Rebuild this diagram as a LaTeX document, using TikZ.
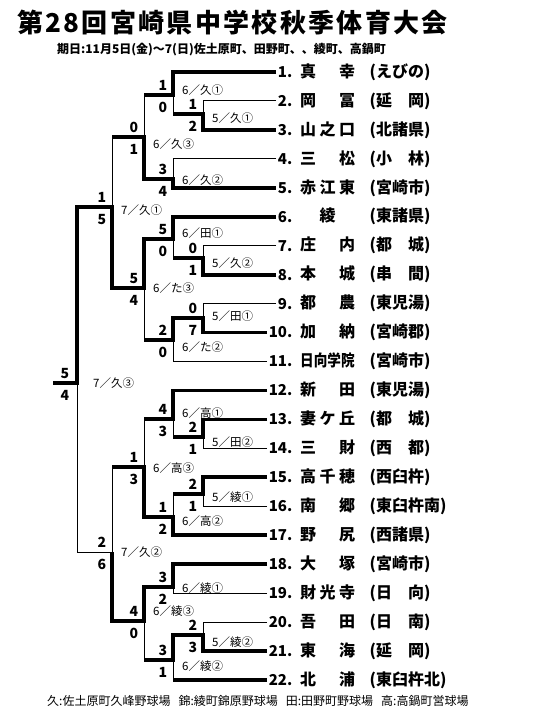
\documentclass[tikz,border=0pt]{standalone}
\usepackage{fontspec}
\setmainfont{Noto Sans CJK JP}
\usepackage{graphicx}
\usepackage{tikz}
\usetikzlibrary{calc}

\tikzset{
  lose line/.style={line width=1pt},
  win line/.style={line width=3.8pt},
  score/.style={font=\fontsize{14}{14}\selectfont\bfseries, inner sep=0pt},
  game/.style={font=\fontsize{11.5}{12}\selectfont, anchor=west, inner sep=0pt},
  num/.style={font=\fontsize{15}{16}\selectfont\bfseries, anchor=east, inner sep=1.5pt},
  school/.style={font=\fontsize{16}{16}\selectfont\bfseries, anchor=west, inner sep=0pt},
}
\newcommand{\nm}[4]{\makebox[19.5pt][l]{#1}\makebox[19.5pt][l]{#2}\makebox[19.5pt][l]{#3}\hspace{11pt}(#4)}
\newcommand{\game}[5]{%
  \node[score, anchor=south] (#1u) at ($(#1)+(-10,-4)$) {#2};
  \node[score, anchor=north] (#1d) at ($(#1)+(-10,7)$) {#3};
  \node[game] (#1g) at ($(#1 |- 0,#5)+(9,0)$) {#4};}

\begin{document}
\begin{tikzpicture}[x=1pt,y=-1pt]
    \useasboundingbox (0,0) rectangle (540,720);
    \node[anchor=west, inner sep=0pt, font=\fontsize{26}{26}\selectfont\bfseries\addfontfeature{LetterSpace=9}] (title) at (17,23) {第28回宮崎県中学校秋季体育大会};
    \node[anchor=west, inner sep=0pt, font=\fontsize{12}{12}\selectfont\bfseries] (date) at (57,50) {期日:11月5日(金)～7(日)佐土原町、田野町、、綾町、高鍋町};
    \node[anchor=west, inner sep=0pt, font=\fontsize{12}{12}\selectfont] (venue) at (47,701) {久:佐土原町久峰野球場\hspace{8pt}錦:綾町錦原野球場\hspace{8pt}田:田野町野球場\hspace{8pt}高:高鍋町営球場};

    \coordinate (s1) at (173,72.0);
    \coordinate (s2) at (203,100.95);
    \coordinate (s3) at (203,129.9);
    \coordinate (s4) at (173,158.85);
    \coordinate (s5) at (173,187.8);
    \coordinate (s6) at (173,216.75);
    \coordinate (s7) at (203,245.7);
    \coordinate (s8) at (203,274.65);
    \coordinate (s9) at (203,303.6);
    \coordinate (s10) at (203,332.55);
    \coordinate (s11) at (173,361.5);
    \coordinate (s12) at (173,390.45);
    \coordinate (s13) at (203,419.4);
    \coordinate (s14) at (203,448.35);
    \coordinate (s15) at (203,477.3);
    \coordinate (s16) at (203,506.25);
    \coordinate (s17) at (173,535.2);
    \coordinate (s18) at (173,564.15);
    \coordinate (s19) at (173,593.1);
    \coordinate (s20) at (203,622.05);
    \coordinate (s21) at (203,651.0);
    \coordinate (s22) at (173,679.95);

    \node[num] (n1) at (294,72.0) {1.};
    \node[num] (n2) at (294,100.95) {2.};
    \node[num] (n3) at (294,129.9) {3.};
    \node[num] (n4) at (294,158.85) {4.};
    \node[num] (n5) at (294,187.8) {5.};
    \node[num] (n6) at (294,216.75) {6.};
    \node[num] (n7) at (294,245.7) {7.};
    \node[num] (n8) at (294,274.65) {8.};
    \node[num] (n9) at (294,303.6) {9.};
    \node[num] (n10) at (294,332.55) {10.};
    \node[num] (n11) at (294,361.5) {11.};
    \node[num] (n12) at (294,390.45) {12.};
    \node[num] (n13) at (294,419.4) {13.};
    \node[num] (n14) at (294,448.35) {14.};
    \node[num] (n15) at (294,477.3) {15.};
    \node[num] (n16) at (294,506.25) {16.};
    \node[num] (n17) at (294,535.2) {17.};
    \node[num] (n18) at (294,564.15) {18.};
    \node[num] (n19) at (294,593.1) {19.};
    \node[num] (n20) at (294,622.05) {20.};
    \node[num] (n21) at (294,651.0) {21.};
    \node[num] (n22) at (294,679.95) {22.};

    \node[school] (t1) at (300,72.0) {\nm{真}{}{幸}{えびの}};
    \node[school] (t2) at (300,100.95) {\nm{岡}{}{冨}{延　岡}};
    \node[school] (t3) at (300,129.9) {\nm{山}{之}{口}{北諸県}};
    \node[school] (t4) at (300,158.85) {\nm{三}{}{松}{小　林}};
    \node[school] (t5) at (300,187.8) {\nm{赤}{江}{東}{宮崎市}};
    \node[school] (t6) at (300,216.75) {\nm{}{綾}{}{東諸県}};
    \node[school] (t7) at (300,245.7) {\nm{庄}{}{内}{都　城}};
    \node[school] (t8) at (300,274.65) {\nm{本}{}{城}{串　間}};
    \node[school] (t9) at (300,303.6) {\nm{都}{}{農}{東児湯}};
    \node[school] (t10) at (300,332.55) {\nm{加}{}{納}{宮崎郡}};
    \node[school] (t11) at (300,361.5) {\nm{\scalebox{0.85}[1]{日向学院}}{}{}{宮崎市}};
    \node[school] (t12) at (300,390.45) {\nm{新}{}{田}{東児湯}};
    \node[school] (t13) at (300,419.4) {\nm{妻}{ケ}{丘}{都　城}};
    \node[school] (t14) at (300,448.35) {\nm{三}{}{財}{西　都}};
    \node[school] (t15) at (300,477.3) {\nm{高}{千}{穂}{西臼杵}};
    \node[school] (t16) at (300,506.25) {\nm{南}{}{郷}{東臼杵南}};
    \node[school] (t17) at (300,535.2) {\nm{野}{}{尻}{西諸県}};
    \node[school] (t18) at (300,564.15) {\nm{大}{}{塚}{宮崎市}};
    \node[school] (t19) at (300,593.1) {\nm{財}{光}{寺}{日　向}};
    \node[school] (t20) at (300,622.05) {\nm{吾}{}{田}{日　南}};
    \node[school] (t21) at (300,651.0) {\nm{東}{}{海}{延　岡}};
    \node[school] (t22) at (300,679.95) {\nm{北}{}{浦}{東臼杵北}};

    \coordinate (A) at (203,114);
    \coordinate (B) at (173,95);
    \coordinate (C) at (173,179);
    \coordinate (D) at (144,137);
    \coordinate (E) at (203,258);
    \coordinate (F) at (173,239);
    \coordinate (G) at (203,318);
    \coordinate (H) at (173,340);
    \coordinate (I) at (144,288);
    \coordinate (J) at (112,207);
    \coordinate (K) at (203,437);
    \coordinate (L) at (173,419);
    \coordinate (M) at (203,494);
    \coordinate (N) at (173,517);
    \coordinate (O) at (144,467);
    \coordinate (P) at (173,587);
    \coordinate (Q) at (203,635);
    \coordinate (R) at (173,660);
    \coordinate (S) at (144,621);
    \coordinate (T) at (112,552);
    \coordinate (W) at (77,383);
    \coordinate (champ) at (53,383);

    \draw[lose line] (n2.west) -- (s2);
    \draw[lose line] (n4.west) -- (s4);
    \draw[lose line] (n7.west) -- (s7);
    \draw[lose line] (n9.west) -- (s9);
    \draw[lose line] (n11.west) -- (s11);
    \draw[lose line] (n14.west) -- (s14);
    \draw[lose line] (n16.west) -- (s16);
    \draw[lose line] (n19.west) -- (s19);
    \draw[lose line] (n20.west) -- (s20);

    \draw[lose line] (s2) -- (s3);
    \draw[lose line] (s1) -- (A -| B);
    \draw[lose line] (s4) -- (s5);
    \draw[lose line] (B -| D) -- (C -| D);
    \draw[lose line] (s7) -- (s8);
    \draw[lose line] (s6) -- (E -| F);
    \draw[lose line] (s9) -- (s10);
    \draw[lose line] (G -| H) -- (s11);
    \draw[lose line] (F -| I) -- (H -| I);
    \draw[lose line] (D -| J) -- (I -| J);
    \draw[lose line] (s13) -- (s14);
    \draw[lose line] (s12) -- (K -| L);
    \draw[lose line] (s15) -- (s16);
    \draw[lose line] (M -| N) -- (s17);
    \draw[lose line] (L -| O) -- (N -| O);
    \draw[lose line] (s18) -- (s19);
    \draw[lose line] (s20) -- (s21);
    \draw[lose line] (Q -| R) -- (s22);
    \draw[lose line] (P -| S) -- (R -| S);
    \draw[lose line] (O -| T) -- (S -| T);
    \draw[lose line] (J -| W) -- (T -| W) -- (T);

    \draw[win line] (n1.west) -- (s1) -- (B) -- (B -| D);
    \draw[win line] (n3.west) -- (s3) -- (A) -- (A -| B);
    \draw[win line] (n5.west) -- (s5) -- (C) -- (C -| D) -- (D) -- (D -| J);
    \draw[win line] (n6.west) -- (s6) -- (F) -- (F -| I) -- (I) -- (I -| J) -- (J) -- (J -| W) -- (W) -- (champ);
    \draw[win line] (n8.west) -- (s8) -- (E) -- (E -| F);
    \draw[win line] (n10.west) -- (s10) -- (G) -- (G -| H) -- (H) -- (H -| I);
    \draw[win line] (n12.west) -- (s12) -- (L) -- (L -| O);
    \draw[win line] (n13.west) -- (s13) -- (K) -- (K -| L);
    \draw[win line] (n15.west) -- (s15) -- (M) -- (M -| N);
    \draw[win line] (n17.west) -- (s17) -- (N) -- (N -| O) -- (O) -- (O -| T);
    \draw[win line] (n18.west) -- (s18) -- (P) -- (P -| S) -- (S) -- (S -| T) -- (T);
    \draw[win line] (n21.west) -- (s21) -- (Q) -- (Q -| R) -- (R) -- (R -| S);
    \draw[win line] (n22.west) -- (s22);

    \game{A}{1}{2}{5／久①}{118}
    \game{B}{1}{0}{6／久①}{90}
    \game{C}{3}{4}{6／久②}{180}
    \game{D}{0}{1}{6／久③}{144}
    \game{E}{0}{1}{5／久②}{263}
    \game{F}{5}{0}{6／田①}{233}
    \game{G}{0}{7}{5／田①}{316}
    \game{H}{2}{0}{6／た②}{347}
    \game{I}{5}{4}{6／た③}{288}
    \game{J}{1}{5}{7／久①}{210}
    \game{K}{2}{1}{5／田②}{442}
    \game{L}{4}{3}{6／高①}{413}
    \game{M}{2}{1}{5／綾①}{497}
    \game{N}{1}{2}{6／高②}{521}
    \game{O}{1}{3}{6／高③}{468}
    \game{P}{3}{2}{6／綾①}{588}
    \game{Q}{2}{3}{5／綾②}{642}
    \game{R}{3}{1}{6／綾②}{666}
    \game{S}{4}{0}{6／綾③}{611}
    \game{T}{2}{6}{7／久②}{552}
    \node[score, anchor=south] (Wu) at ($(W)+(-12,-4)$) {5};
    \node[score, anchor=north] (Wd) at ($(W)+(-12,7)$) {4};
    \node[game] (Wg) at ($(W)+(16,0)$) {7／久③};
\end{tikzpicture}
\end{document}
